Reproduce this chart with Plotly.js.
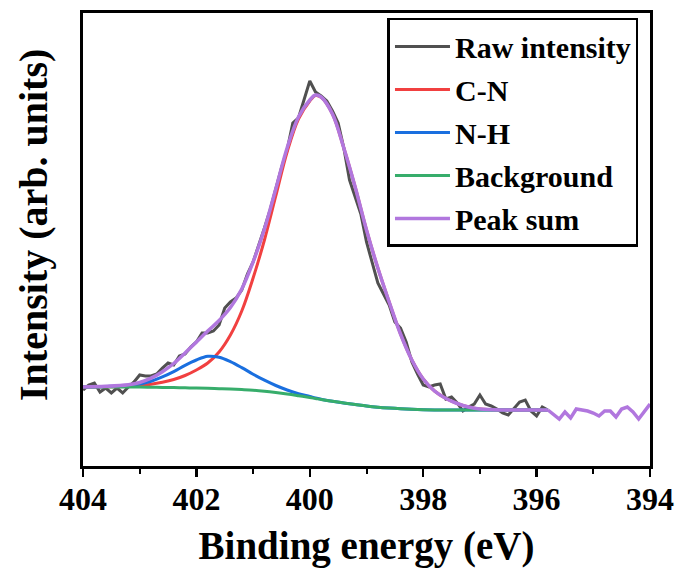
<!DOCTYPE html>
<html>
<head>
<meta charset="utf-8">
<script src="https://cdn.plot.ly/plotly-3.0.1.min.js"></script>
<style>html,body{margin:0;padding:0;background:#fff;}#chart{width:680px;height:571px;}</style>
</head>
<body>
<div id="chart"></div>
<script>
// Binding energy grid for the raw spectrum (eV)
const energyRaw = [404.0,403.9,403.8,403.7,403.6,403.5,403.4,403.3,403.2,403.1,
  403.0,402.9,402.8,402.7,402.6,402.5,402.4,402.3,402.2,402.1,
  402.0,401.9,401.8,401.7,401.6,401.5,401.4,401.3,401.2,401.1,
  401.0,400.9,400.8,400.7,400.6,400.5,400.4,400.3,400.2,400.1,
  400.0,399.9,399.8,399.7,399.6,399.5,399.4,399.3,399.2,399.1,
  399.0,398.9,398.8,398.7,398.6,398.5,398.4,398.3,398.2,398.1,
  398.0,397.9,397.8,397.7,397.6,397.5,397.4,397.3,397.2,397.1,
  397.0,396.9,396.8,396.7,396.6,396.5,396.4,396.3,396.2,396.1,
  396.0,395.9,395.8];
const rawIntensity = [76,81,83,74,78,73,78,73,79,84,
  91,90,90,92,98,103,101,110,112,119,
  124,133,133,135,141,158,164,168,176,192,
  204,220,238,256,278,298,316,343,348,366,
  385,374,370,365,355,343,318,286,270,252,
  224,204,183,172,161,144,138,124,104,92,
  81,79,81,82,67,69,63,55,59,62,
  71,62,60,57,53,51,58,64,66,55,
  50,59,56];

// Fit grid (eV)
const energyFit = [404.0,403.6,403.2,403.0,402.8,402.6,402.4,402.2,402.0,401.8,
  401.6,401.4,401.2,401.0,400.8,400.6,400.4,400.2,400.0,399.9,
  399.8,399.6,399.4,399.2,399.0,398.8,398.6,398.4,398.2,398.0,
  397.8,397.6,397.4,397.2,397.0,396.6,396.2,395.8];
const cnFit = [79,79.2,79.8,80.5,81.8,83.8,86.5,90.5,96,103,
  114,131,155,188,226,270,314,347,365,370.5,
  368.7,352,318,279,236,198,164,132,106,87,
  75,67.5,62.5,59,57,56,56,56];
const nhFit = [79,79.5,80.5,82,84.8,89.1,94.4,100.7,106,109.7,
  108.8,104.4,98.4,91.8,85.8,80.5,76,72.3,69.5,68,
  66.8,64.8,63,61.5,60,58.8,57.9,57.2,56.7,56.3,
  56.1,56,56,56,56,56,56,56];
const backgroundFit = [79,79,79,79,78.8,78.6,78.4,78.2,78,77.7,
  77.3,76.9,76.4,75.8,74.8,73.5,72,70.3,68.5,67.5,
  66.5,64.7,63,61.5,60,58.8,57.9,57.2,56.7,56.3,
  56.1,56,56,56,56,56,56,56];
const peakSum = [79,79.7,81.3,83.5,87.8,94.3,102.5,113,124,135,
  145.5,158.5,177,204,237,277,318,349,366,371,
  369,352.1,318,279,236,198,164,132,106,87,
  75,67.5,62.5,59,57,56,56,56];

// Peak sum beyond the fitted window (follows the measured signal)
const energyTail = [395.8,395.7,395.6,395.5,395.4,395.3,395.2,395.1,395.0,394.9,
  394.8,394.7,394.6,394.5,394.4,394.3,394.2,394.1,394.0];
const peakSumTail = [56,51,47,54,48,57,56,55,53,50,
  55,55,49,57,59,54,47,54,62];

const seriesNames = ['Raw intensity','C-N','N-H','Background','Peak sum'];
const xTickVals = [404,402,400,398,396,394];

const colors = {raw:'#505050', cn:'#F14040', nh:'#1A6FDF', bg:'#37AD6B', sum:'#B177DE'};

const traces = [
  {x: energyRaw, y: rawIntensity, name: seriesNames[0], mode:'lines', legendgroup:'g1',
   line:{color:colors.raw, width:3}},
  {x: energyFit, y: cnFit, name: seriesNames[1], mode:'lines', legendgroup:'g2',
   line:{color:colors.cn, width:3, shape:'spline', smoothing:1}},
  {x: energyFit, y: nhFit, name: seriesNames[2], mode:'lines', legendgroup:'g3',
   line:{color:colors.nh, width:3, shape:'spline', smoothing:1}},
  {x: energyFit, y: backgroundFit, name: seriesNames[3], mode:'lines', legendgroup:'g4',
   line:{color:colors.bg, width:3, shape:'spline', smoothing:1}},
  {x: energyFit, y: peakSum, name: seriesNames[4], mode:'lines', legendgroup:'g5',
   line:{color:colors.sum, width:3.5, shape:'spline', smoothing:1}},
  {x: energyTail, y: peakSumTail, name: seriesNames[4], mode:'lines', legendgroup:'g5', showlegend:false,
   line:{color:colors.sum, width:3.5}}
];

const fontFam = '"Liberation Serif", "Times New Roman", serif';

const layout = {
  width: 680, height: 571,
  margin: {l:83, r:30, t:13, b:105, pad:0},
  paper_bgcolor:'#ffffff', plot_bgcolor:'#ffffff',
  showlegend: true,
  font: {family: fontFam, color:'#000', weight:'bold'},
  xaxis: {
    range: [404, 394],
    tickvals: xTickVals,
    ticktext: xTickVals.map(String),
    ticks: 'outside', ticklen: 8, tickwidth: 2.5, tickcolor:'#000',
    ticklabelstandoff: -5,
    minor: {dtick: 1, tick0: 395, ticks:'outside', ticklen: 5, tickwidth: 2, tickcolor:'#000', showgrid:false},
    showline: true, linewidth: 3, linecolor: '#000', mirror: true,
    showgrid: false, zeroline: false,
    tickfont: {family: fontFam, size: 32, color:'#000', weight:'bold'},
    title: {text: 'Binding energy (eV)', font: {family: fontFam, size: 39, color:'#000', weight:'bold'}, standoff: 16}
  },
  yaxis: {
    range: [0, 453],
    showticklabels: false, ticks: '',
    showline: true, linewidth: 3, linecolor: '#000', mirror: true,
    showgrid: false, zeroline: false
  },
  annotations: [{
    text: 'Intensity (arb. units)', xref:'paper', yref:'paper',
    x: -0.0882, y: 0.532, xanchor:'center', yanchor:'middle', textangle: -90,
    showarrow: false,
    font: {family: fontFam, size: 40, color:'#000', weight:'bold'}
  }],
  legend: {
    x: 0.537, y: 0.989, xanchor:'left', yanchor:'top',
    bgcolor:'#ffffff', bordercolor:'#000', borderwidth: 2.5,
    font: {family: fontFam, size: 30, color:'#000', weight:'bold'},
    traceorder: 'grouped', tracegroupgap: 1, itemwidth: 55
  }
};

Plotly.newPlot('chart', traces, layout, {displayModeBar:false, staticPlot:true});
</script>
</body>
</html>
